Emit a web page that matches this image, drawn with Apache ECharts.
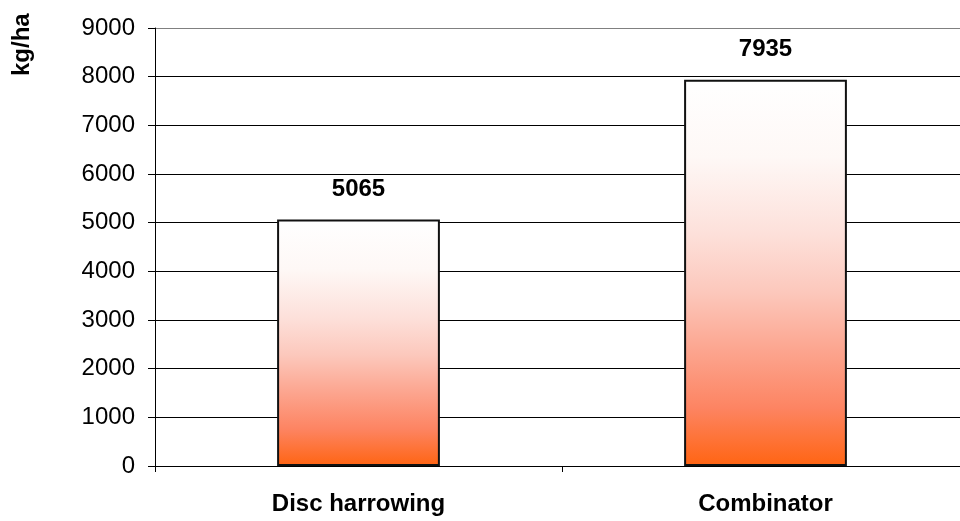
<!DOCTYPE html>
<html>
<head>
<meta charset="utf-8">
<script src="https://cdn.jsdelivr.net/npm/echarts@6/dist/echarts.min.js"></script>
<style>
  html, body { margin: 0; padding: 0; background: #fff; }
  #chart { width: 960px; height: 521px; }
</style>
</head>
<body>
<div id="chart"></div>
<script>
// Yield per tillage method
const categories = ['Disc harrowing', 'Combinator'];
const yields = [5065, 7935];
const yTicks = [0, 1000, 2000, 3000, 4000, 5000, 6000, 7000, 8000, 9000];

const chart = echarts.init(document.getElementById('chart'));
const font = 'Liberation Sans, Arial, sans-serif';

// grid lines: black, with the top boundary in gray
const gridColors = yTicks.map((t, i) => (i === yTicks.length - 1 ? '#808080' : '#000000'));

chart.setOption({
  animation: false,
  grid: { left: 155, width: 814, top: 28, bottom: 55, outerBoundsMode: 'none', containLabel: false },
  graphic: [{
    type: 'text',
    x: 10,
    y: 76,
    rotation: Math.PI / 2,
    style: {
      text: 'kg/ha',
      font: 'bold 24px ' + font,
      fill: '#000',
      textAlign: 'left',
      textVerticalAlign: 'top'
    }
  }],
  xAxis: {
    type: 'category',
    data: categories,
    axisLine: { lineStyle: { color: '#000', width: 1 } },
    axisTick: { show: true, length: 6, lineStyle: { color: '#000' } },
    axisLabel: { fontFamily: font, fontSize: 24, fontWeight: 'bold', color: '#000', margin: 26 }
  },
  yAxis: {
    type: 'value',
    min: yTicks[0],
    max: yTicks[yTicks.length - 1],
    interval: 1000,
    axisLine: { show: true, lineStyle: { color: '#000', width: 1 } },
    axisTick: { show: true, length: 7, lineStyle: { color: '#000' } },
    axisLabel: {
      fontFamily: font, fontSize: 24, color: '#000', margin: 20,
      formatter: v => String(v)
    },
    splitLine: { show: true, lineStyle: { color: gridColors, width: 1 } }
  },
  series: [{
    type: 'bar',
    data: yields,
    barCategoryGap: '60%',
    itemStyle: {
      borderColor: '#111',
      borderWidth: 2,
      color: new echarts.graphic.LinearGradient(0, 0, 0, 1, [
        { offset: 0, color: '#FFFFFF' },
        { offset: 0.2, color: '#FEF8F6' },
        { offset: 0.4, color: '#FDE0DA' },
        { offset: 0.55, color: '#FCC8BC' },
        { offset: 0.7, color: '#FCA58F' },
        { offset: 0.85, color: '#FD8462' },
        { offset: 1, color: '#FF6412' }
      ])
    },
    label: {
      show: true,
      position: 'top',
      distance: 18,
      fontFamily: font,
      fontSize: 24,
      fontWeight: 'bold',
      color: '#000'
    }
  }]
});
</script>
</body>
</html>
